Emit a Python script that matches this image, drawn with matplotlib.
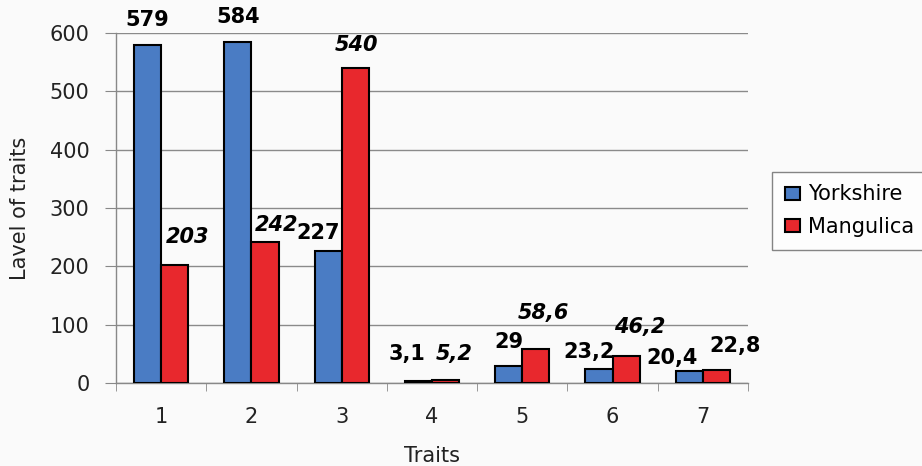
import numpy as np
import matplotlib.pyplot as plt

traits = ['1', '2', '3', '4', '5', '6', '7']
yorkshire = [579, 584, 227, 3.1, 29, 23.2, 20.4]
mangulica = [203, 242, 540, 5.2, 58.6, 46.2, 22.8]

# label offsets (pixels) from the bar top centre
york_dx = [0, 0, -10, -11, 0, -10, -17]
york_dy = [25, 25, 18, 27, 24, 17, 13]
mang_dx = [13, 12, 1, 9, 8, 14, 19]
mang_dy = [28, 17, 23, 26, 36, 29, 24]
mang_italic = [True, True, True, True, True, True, False]

plt.rcParams['font.family'] = ['DejaVu Sans']
fs = 15

fig = plt.figure(figsize=(9.22, 4.66), dpi=100, facecolor='#fafafa')
ax = fig.add_axes([116 / 922, 1 - 383 / 466, 632 / 922, 350 / 466])
ax.set_facecolor('#fafafa')

x = np.arange(len(traits))
w = 0.3
b1 = ax.bar(x - w / 2, yorkshire, w, color='#4a7cc4', edgecolor='black', linewidth=1.5,
            label='Yorkshire', zorder=3)
b2 = ax.bar(x + w / 2, mangulica, w, color='#e8282d', edgecolor='black', linewidth=1.5,
            label='Mangulica', zorder=3)

def fmt(v):
    s = f'{v:g}'
    return s.replace('.', ',')

for i, v in enumerate(yorkshire):
    ax.annotate(fmt(v), (x[i] - w / 2, v), xytext=(york_dx[i], york_dy[i]),
                textcoords='offset pixels', ha='center', va='center',
                fontsize=fs, fontweight='bold', zorder=5)
for i, v in enumerate(mangulica):
    ax.annotate(fmt(v), (x[i] + w / 2, v), xytext=(mang_dx[i], mang_dy[i]),
                textcoords='offset pixels', ha='center', va='center',
                fontsize=fs, fontweight='bold',
                fontstyle='italic' if mang_italic[i] else 'normal', zorder=5)

ax.set_xlim(-0.5, len(traits) - 0.5)
ax.set_ylim(0, 600)
ax.set_yticks(range(0, 601, 100))
ax.set_xticks(x)
ax.set_xticklabels(traits)
ax.set_xticks(np.arange(-0.5, len(traits), 1), minor=True)
ax.tick_params(axis='x', which='major', length=0, pad=17, labelsize=fs, labelcolor='#222222')
ax.tick_params(axis='x', which='minor', length=6, color='#888888', direction='out')
ax.tick_params(axis='y', length=8, color='#888888', pad=11, labelsize=fs, labelcolor='#222222')

ax.yaxis.grid(True, color='#8a8a8a', linewidth=1, zorder=0)
for s in ['top', 'right']:
    ax.spines[s].set_visible(False)
for s in ['left', 'bottom']:
    ax.spines[s].set_color('#888888')
    ax.spines[s].set_linewidth(1)

ax.set_xlabel('Traits', fontsize=fs, labelpad=14, color='#222222')
ax.set_ylabel('Lavel of traits', fontsize=fs, labelpad=14, color='#222222')

leg = fig.legend(handles=[b1, b2], loc='upper left', bbox_to_anchor=(772 / 922, 1 - 172 / 466),
                 fontsize=fs, frameon=True, fancybox=False, edgecolor='#666666',
                 handlelength=0.75, handleheight=0.6, handletextpad=0.4,
                 borderpad=0.6, labelspacing=0.6, borderaxespad=0)
leg.get_frame().set_linewidth(1)
leg.get_frame().set_facecolor('white')

fig.savefig('out.png', dpi=100, facecolor=fig.get_facecolor())
